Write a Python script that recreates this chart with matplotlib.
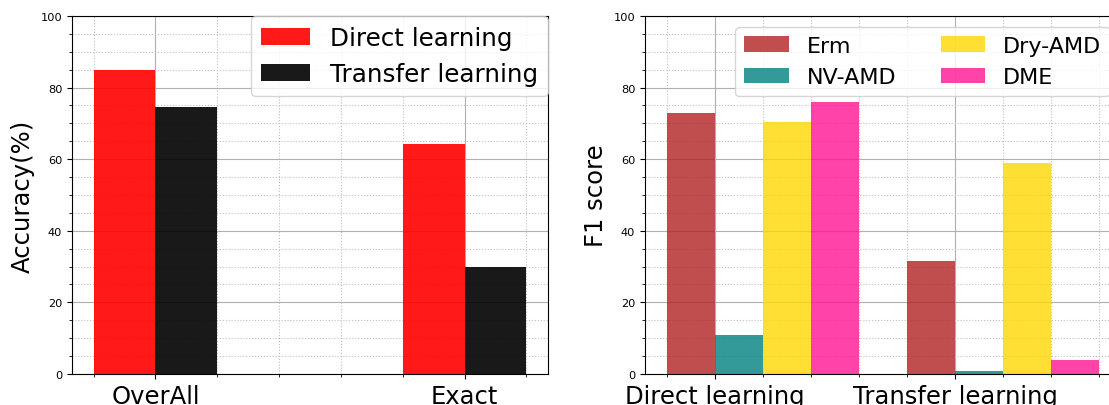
import numpy as np
import matplotlib
matplotlib.use("Agg")
import matplotlib.pyplot as plt

# accuracy per evaluation mode
acc_groups = ['OverAll', 'Exact']
acc_direct = [85.0, 64.2]
acc_transfer = [74.5, 30.0]

# F1 per class for both training modes
f1_groups = ['Direct learning', 'Transfer learning']
f1_classes = ['Erm', 'NV-AMD', 'Dry-AMD', 'DME']
f1_erm = [73.0, 31.5]
f1_nv = [11.0, 0.8]
f1_dry = [70.5, 59.0]
f1_dme = [76.0, 4.0]

big = 17.5
width = 0.2

fig = plt.figure(figsize=(11.09, 4.06), dpi=100)
ax1 = fig.add_axes([0.0649, 0.0764, 0.4292, 0.8818])
ax2 = fig.add_axes([0.5816, 0.0764, 0.4292, 0.8818])

def style_axes(ax, labels, ylabel):
    ax.set_ylim(0, 100)
    ax.set_xticks(np.arange(len(labels)))
    ax.set_xticklabels(labels, fontsize=big)
    ax.minorticks_on()
    ax.set_axisbelow(True)
    ax.grid(which='major', linestyle='-', color='#b0b0b0', linewidth=0.8)
    ax.grid(which='minor', linestyle=':', color='#c0c0c0', linewidth=0.8)
    ax.tick_params(axis='y', labelsize=8.2)
    ax.set_ylabel(ylabel, fontsize=big)

# left: accuracy
x = np.arange(len(acc_groups))
ax1.bar(x - width / 2, acc_direct, width, color='r', alpha=0.9, label='Direct learning')
ax1.bar(x + width / 2, acc_transfer, width, color='k', alpha=0.9, label='Transfer learning')
style_axes(ax1, acc_groups, 'Accuracy(%)')
ax1.legend(loc='upper right', fontsize=17.7, borderaxespad=0)

# right: F1 score
x = np.arange(len(f1_groups))
f1_values = [f1_erm, f1_nv, f1_dry, f1_dme]
f1_colors = ['firebrick', 'teal', 'gold', 'deeppink']
for i, (vals, col, name) in enumerate(zip(f1_values, f1_colors, f1_classes)):
    ax2.bar(x + (i - 0.5) * width, vals, width, color=col, alpha=0.8, label=name)
style_axes(ax2, f1_groups, 'F1 score')
ax2.legend(loc='upper right', fontsize=16, ncol=2)

fig.savefig('out.png', dpi=100)
